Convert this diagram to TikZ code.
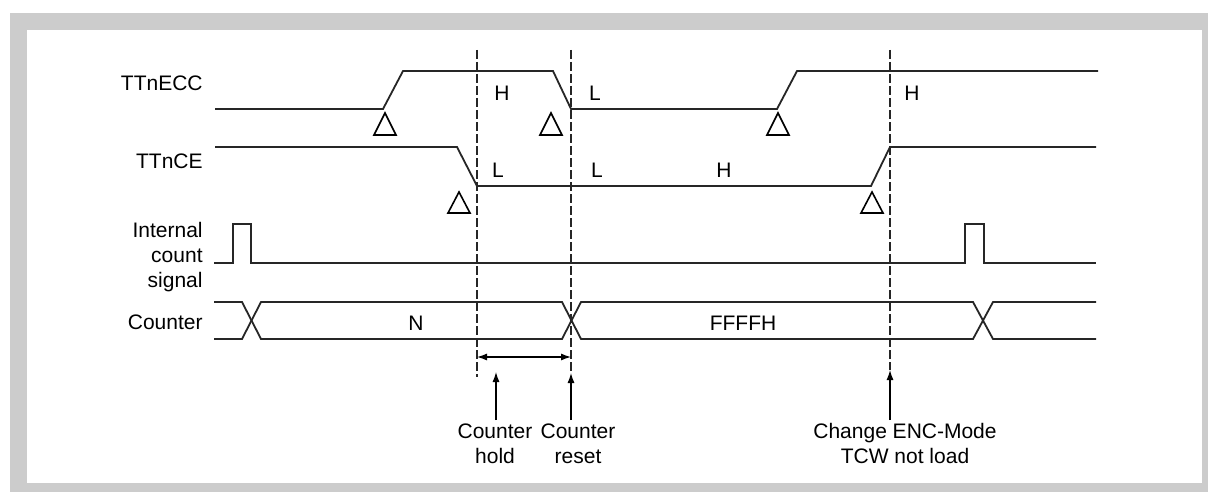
\documentclass[tikz,border=0pt]{standalone}
\usepackage{fontspec}
\setmainfont{Liberation Sans}
\usetikzlibrary{arrows.meta}

\tikzset{
    sig/.style={line width=0.9pt, color=black!85},
    guide/.style={line width=1.1pt, color=black!85, dash pattern=on 4.5pt off 1.5pt},
    trig/.style={line width=0.8pt},
    tip/.style={line width=0.6pt, -{Latex[length=5pt,width=3.5pt]}},
    lbl/.style={inner sep=0pt, font=\fontsize{10.5}{12.5}\selectfont},
}

\begin{document}
\begin{tikzpicture}[x=0.5pt, y=-0.5pt]
\useasboundingbox (0,0) rectangle (1208,492);
% frame
\fill[black!20] (10,13) rectangle (1208,492);
\fill[white] (27,30) rectangle (1202,483);

    % signal names
\node[lbl, anchor=east] (necc) at (203,83) {TTnECC};
\node[lbl, anchor=east] (nce) at (203,161) {TTnCE};
\node[lbl, anchor=east, align=right] (nint) at (203,257) {Internal\\count\\signal};
\node[lbl, anchor=east] (ncnt) at (203,322) {Counter};

    % TTnECC
\draw[sig] (215,109) -- (383,109) -- (403,71) -- (553,71) -- (571,109)
    -- (777,109) -- (797,71) -- (1098,71);
\foreach \cx in {385,551,778}
    \draw[trig] (\cx-11,135) -- (\cx,113) -- (\cx+11,135) -- cycle;
\node[lbl] (ecch) at (502,93) {H};
\node[lbl] (eccl) at (595,93) {L};
\node[lbl] (ecch2) at (912,93) {H};

    % TTnCE
\draw[sig] (215,147) -- (457,147) -- (477,186) -- (871,186) -- (890,147) -- (1096,147);
\foreach \cx in {459,872}
    \draw[trig] (\cx-11,213) -- (\cx,192) -- (\cx+11,213) -- cycle;
\node[lbl] (cel) at (498,170) {L};
\node[lbl] (cel2) at (597,170) {L};
\node[lbl] (ceh) at (724,170) {H};

    % Internal count signal
\draw[sig] (214,263) -- (233,263) -- (233,224) -- (251,224) -- (251,263)
    -- (965,263) -- (965,224) -- (984,224) -- (984,263) -- (1096,263);

    % Counter
\draw[sig] (214,302) -- (242,302) -- (261,339) -- (562,339) -- (581,302)
    -- (973,302) -- (993,339) -- (1096,339);
\draw[sig] (214,339) -- (242,339) -- (261,302) -- (562,302) -- (581,339)
    -- (973,339) -- (993,302) -- (1096,302);
\node[lbl] (cntn) at (416,323) {N};
\node[lbl] (cntf) at (743,323) {FFFFH};

    % markers
\coordinate (m1) at (477,377);
\coordinate (m2) at (571,373);
\coordinate (m3) at (890,370);
\draw[guide] (477,50) -- (m1);
\draw[guide] (571,50) -- (m2);
\draw[guide] (890,50) -- (m3);
\coordinate (ha) at (477,357);
\coordinate (hb) at (571,357);
\draw[line width=0.6pt, {Latex[length=5pt,width=3.5pt]}-{Latex[length=5pt,width=3.5pt]}] (ha) -- (hb);
\coordinate (hd) at (496,372);

    % notes
\node[lbl, align=center, inner sep=1.5pt, anchor=north] (hold) at (495,420) {Counter\\hold};
\node[lbl, align=center, inner sep=1.5pt, anchor=north] (reset) at (578,420) {Counter\\reset};
\node[lbl, align=center, inner sep=1.5pt, anchor=north] (change) at (905,420) {Change ENC-Mode\\TCW not load};
\draw[tip] (hd |- hold.north) -- (hd);
\draw[tip] (m2 |- reset.north) -- (m2);
\draw[tip] (m3 |- change.north) -- (m3);

\end{tikzpicture}
\end{document}
